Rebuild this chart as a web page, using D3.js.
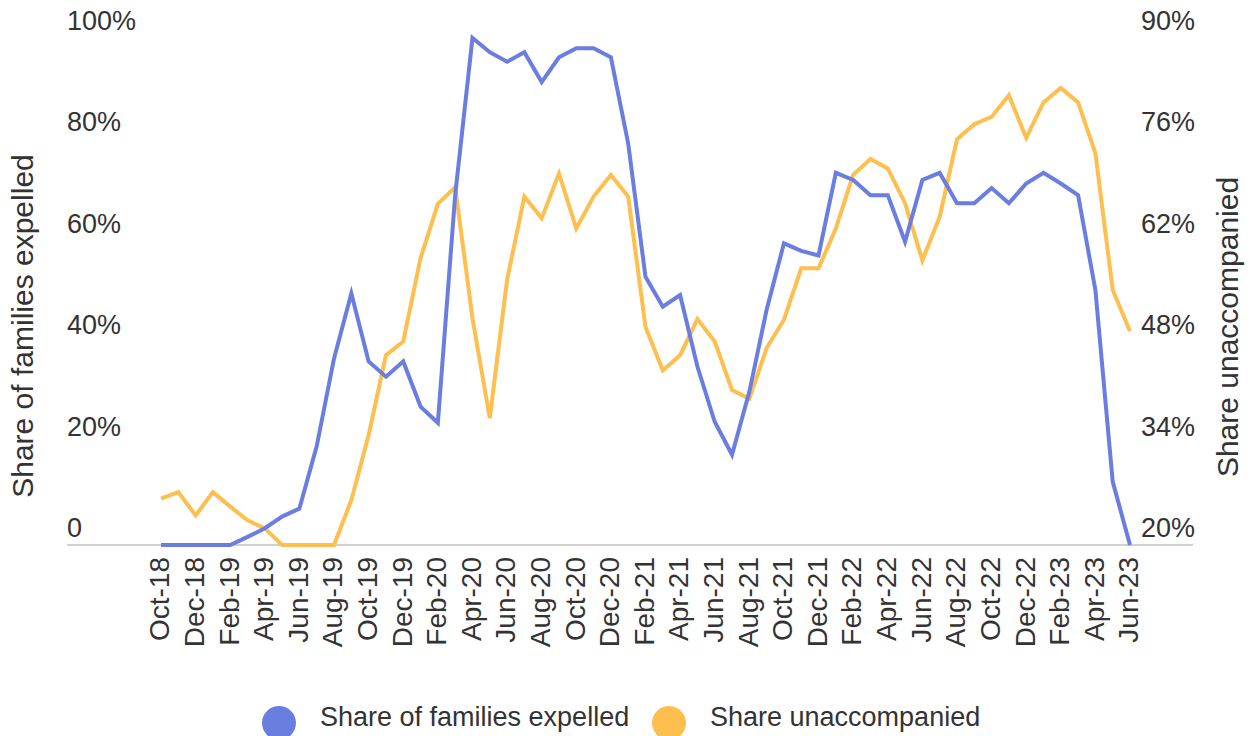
<!DOCTYPE html>
<html>
<head>
<meta charset="utf-8">
<script src="https://cdn.jsdelivr.net/npm/d3@7"></script>
<style>
  body { margin: 0; background: #fff; }
  text { font-family: "Liberation Sans", Arial, sans-serif; fill: #333; }
</style>
</head>
<body>
<div id="vis"></div>
<script>
// months, one point per month
var months = ["Oct-18","Nov-18","Dec-18","Jan-19","Feb-19","Mar-19","Apr-19","May-19","Jun-19","Jul-19",
  "Aug-19","Sep-19","Oct-19","Nov-19","Dec-19","Jan-20","Feb-20","Mar-20","Apr-20","May-20",
  "Jun-20","Jul-20","Aug-20","Sep-20","Oct-20","Nov-20","Dec-20","Jan-21","Feb-21","Mar-21",
  "Apr-21","May-21","Jun-21","Jul-21","Aug-21","Sep-21","Oct-21","Nov-21","Dec-21","Jan-22",
  "Feb-22","Mar-22","Apr-22","May-22","Jun-22","Jul-22","Aug-22","Sep-22","Oct-22","Nov-22",
  "Dec-22","Jan-23","Feb-23","Mar-23","Apr-23","May-23","Jun-23"];

// share of families expelled (left axis, %)
var expelled = [0,0,0,0,0,1.6,3.3,5.6,7.2,19.5,
  36.8,49.6,36.2,33.2,36.2,27.3,24.1,69,100,97.2,
  95.3,97.2,91.3,96.2,98,98,96.2,79.2,52.9,47,
  49.3,35.2,24.3,17.8,30.2,46.4,59.5,58,57.1,73.4,
  72,69,69,59.8,72,73.4,67.4,67.4,70.4,67.4,
  71.3,73.4,71.3,69,50.3,12.5,0];

// share unaccompanied (right axis, %)
var unaccompanied = [26.4,27.3,24.1,27.3,25.3,23.4,22.3,20,20,20,
  20,26.2,35.2,46.2,48.1,59.6,67.1,69.4,51.3,37.5,
  56.6,68.1,65.1,71.3,63.7,68.1,71.1,68.1,50.1,44.1,
  46.2,51.2,48.1,41.4,40.2,47.2,51.1,58.2,58.2,63.7,
  71.1,73.3,72,67.2,59.3,65.3,76,78.1,79.1,82.1,
  76.2,81.1,83.1,81.1,74.1,55.2,49.5];

var leftTicks = [0,20,40,60,80,100];
var rightTicks = [20,34,48,62,76,90];
var seriesNames = ["Share of families expelled","Share unaccompanied"];
var colors = ["#6a7de0","#ffbf4f"];

var w = 1255;
var h = 736;

var chart = d3.select("#vis")
              .append("svg")
              .attr("width", w)
              .attr("height", h)

const xScale = d3.scalePoint()
            .domain(months)
            .range([161,1130])

const yScale = d3.scaleLinear()
            .domain([0,100])
            .range([545,38])

const y2Scale = d3.scaleLinear()
            .domain([20,90])
            .range([545,38])

// baseline
chart.append("line")
     .attr("x1",67).attr("x2",1193)
     .attr("y1",yScale(0)).attr("y2",yScale(0))
     .attr("stroke","#d0d0d0")
     .attr("stroke-width",2)

// left axis, labels sit above their value
const yAxis = chart.append("g")
     .attr("transform","translate(67,0)")
     .call(d3.axisRight(yScale).tickValues(leftTicks).tickSize(0).tickPadding(0)
             .tickFormat(d => d === 0 ? "0" : d + "%"))
yAxis.select(".domain").remove()
yAxis.selectAll("text")
     .attr("dy","0.35em")
     .attr("transform","translate(0,-18)")
     .style("font-size","27px")
     .attr("fill","#333")

const y2Axis = chart.append("g")
     .attr("transform","translate(1141,0)")
     .call(d3.axisRight(y2Scale).tickValues(rightTicks).tickSize(0).tickPadding(0)
             .tickFormat(d => d + "%"))
y2Axis.select(".domain").remove()
y2Axis.selectAll("text")
     .attr("dy","0.35em")
     .attr("transform","translate(0,-18)")
     .style("font-size","27px")
     .attr("fill","#333")

// x axis, every other month
const xAxis = chart.append("g")
     .attr("transform",`translate(0,${yScale(0)})`)
     .call(d3.axisBottom(xScale).tickValues(months.filter((d,i) => i % 2 === 0)).tickSize(0))
xAxis.select(".domain").remove()
xAxis.selectAll("text")
     .attr("transform","rotate(-90)")
     .attr("x",-12)
     .attr("y",0)
     .attr("dy","0.28em")
     .style("text-anchor","end")
     .style("font-size","28px")
     .attr("fill","#333")

// axis titles
chart.append("text")
     .attr("transform","translate(33,326) rotate(-90)")
     .attr("text-anchor","middle")
     .style("font-size","30px")
     .text("Share of families expelled")

chart.append("text")
     .attr("transform","translate(1238,327) rotate(-90)")
     .attr("text-anchor","middle")
     .style("font-size","30px")
     .text("Share unaccompanied")

// lines
const line1 = d3.line()
     .x((d,i) => xScale(months[i]))
     .y(d => yScale(d))
const line2 = d3.line()
     .x((d,i) => xScale(months[i]))
     .y(d => y2Scale(d))

chart.append("path")
     .datum(unaccompanied)
     .attr("d",line2)
     .attr("fill","none")
     .attr("stroke",colors[1])
     .attr("stroke-width",4)
     .attr("stroke-linejoin","miter")

chart.append("path")
     .datum(expelled)
     .attr("d",line1)
     .attr("fill","none")
     .attr("stroke",colors[0])
     .attr("stroke-width",4)
     .attr("stroke-linejoin","miter")

// legend
var legX = [279,669];
seriesNames.forEach(function(name,i){
  chart.append("circle")
       .attr("cx",legX[i]).attr("cy",723).attr("r",17)
       .attr("fill",colors[i])
  chart.append("text")
       .attr("x",legX[i]+41).attr("y",726)
       .style("font-size","27px")
       .text(name)
})
</script>
</body>
</html>
